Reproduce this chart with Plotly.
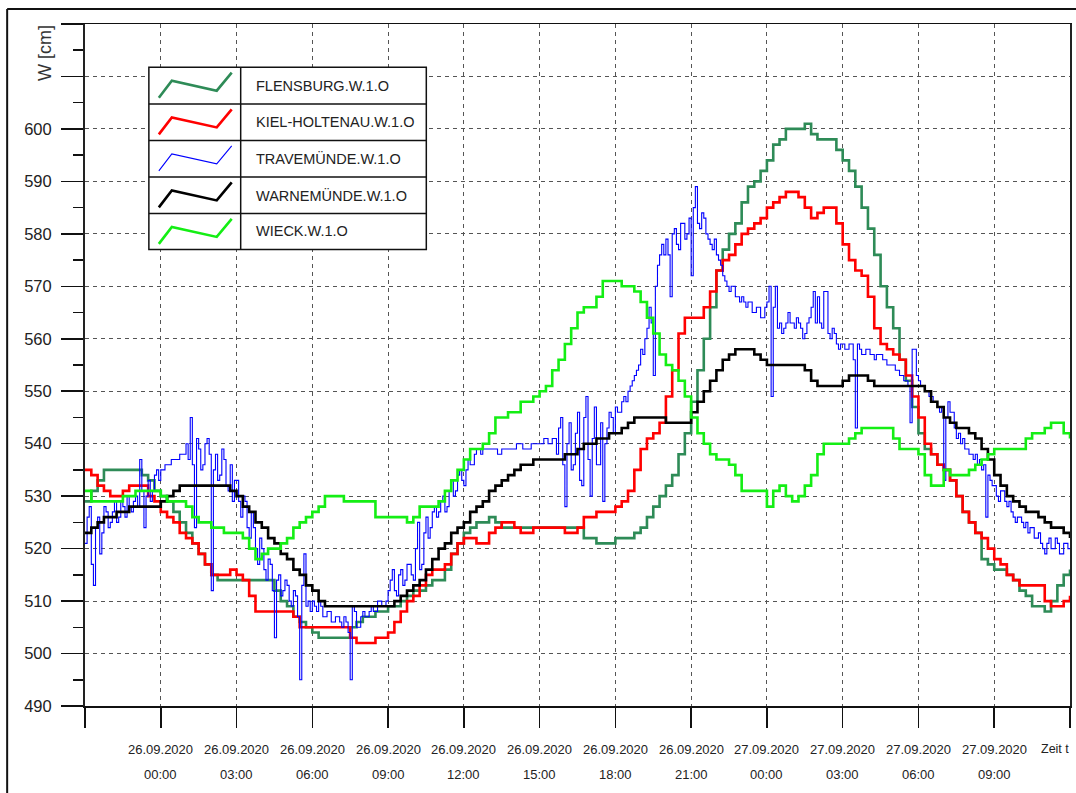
import plotly.graph_objects as go
import pandas as pd

# ---------------- data ----------------
series_names = ["FLENSBURG.W.1.O", "KIEL-HOLTENAU.W.1.O", "TRAVEMÜNDE.W.1.O",
                "WARNEMÜNDE.W.1.O", "WIECK.W.1.O"]
series_colors = ["#2E8B57", "#FF0000", "#0000FF", "#000000", "#14EE14"]
series_widths = [2.6, 2.6, 1.1, 2.6, 2.6]

# 15-minute values from 25.09.2020 21:00 to 27.09.2020 12:00
flensburg = [
    529, 531, 533, 535,  535, 535, 535, 535,  535, 534, 533, 531,  530, 529, 527, 525,
    523, 521, 519, 517,  515, 514, 514, 514,  514, 514, 514, 514,  514, 514, 512, 510,
    509, 507, 506, 505,  504, 503, 503, 503,  503, 503, 505, 506,  507, 507, 508, 508,
    509, 509, 510, 511,  512, 512, 513, 514,  514, 516, 519, 521,  523, 524, 525, 525,
    526, 525, 524, 524,  524, 524, 524, 524,  524, 524, 524, 524,  524, 524, 524, 522,
    522, 521, 521, 521,  522, 522, 522, 523,  524, 526, 528, 530,  532, 534, 538, 542,
    548, 554, 560, 566,  573, 577, 580, 582,  586, 589, 590, 592,  594, 597, 598, 600,
    600, 600, 601, 599,  598, 598, 598, 596,  594, 592, 589, 585,  581, 576, 570, 566,
    562, 556, 552, 547,  542, 539, 538, 536,  535, 533, 530, 527,  525, 523, 518, 517,
    516, 516, 515, 514,  512, 511, 509, 509,  508, 510, 513, 515,  516]

kiel = [
    535, 534, 532, 531,  530, 530, 531, 532,  532, 532, 530, 529,  527, 526, 525, 523,
    522, 521, 519, 517,  515, 515, 515, 516,  515, 514, 511, 508,  508, 508, 508, 508,
    508, 507, 505, 505,  505, 505, 505, 505,  505, 505, 503, 502,  502, 502, 503, 503,
    504, 506, 508, 510,  511, 513, 515, 516,  516, 517, 519, 521,  522, 522, 521, 521,
    523, 524, 525, 525,  524, 523, 523, 524,  524, 524, 524, 524,  523, 523, 524, 526,
    526, 527, 527, 527,  528, 529, 531, 535,  539, 541, 542, 544,  549, 554, 561, 564,
    564, 564, 566, 569,  573, 575, 576, 578,  580, 581, 582, 583,  585, 586, 587, 588,
    588, 587, 585, 583,  584, 585, 585, 582,  578, 575, 573, 572,  568, 562, 559, 558,
    557, 556, 553, 549,  545, 540, 538, 536,  535, 533, 530, 527,  525, 523, 522, 520,
    518, 517, 515, 514,  513, 513, 513, 513,  510, 509, 509, 510,  511]

warnemuende = [
    523, 524, 525, 526,  526, 527, 527, 528,  528, 528, 528, 528,  529, 530, 531, 532,
    532, 532, 532, 532,  532, 532, 532, 531,  530, 528, 527, 525,  524, 522, 521, 519,
    518, 516, 515, 513,  512, 510, 509, 509,  509, 509, 509, 509,  509, 509, 509, 509,
    509, 510, 511, 512,  513, 514, 516, 518,  520, 521, 523, 524,  525, 527, 528, 529,
    531, 532, 533, 534,  535, 536, 536, 537,  537, 537, 537, 537,  538, 538, 539, 540,
    540, 541, 541, 542,  542, 543, 544, 545,  545, 545, 545, 545,  544, 544, 544, 544,
    546, 548, 550, 552,  554, 556, 557, 558,  558, 558, 557, 556,  555, 555, 555, 555,
    555, 555, 554, 552,  551, 551, 551, 551,  552, 553, 553, 553,  552, 551, 551, 551,
    551, 551, 551, 551,  551, 550, 548, 547,  545, 544, 543, 543,  542, 541, 539, 537,
    534, 532, 530, 529,  528, 527, 527, 526,  525, 524, 524, 523,  522]

wieck = [
    531, 529, 529, 529,  529, 529, 530, 530,  531, 531, 531, 531,  530, 529, 529, 529,
    528, 526, 525, 525,  524, 524, 523, 523,  523, 522, 520, 518,  519, 520, 520, 521,
    522, 524, 525, 526,  527, 528, 530, 530,  530, 529, 529, 529,  529, 529, 526, 526,
    526, 526, 526, 525,  526, 528, 528, 528,  529, 531, 533, 535,  537, 539, 539, 540,
    542, 545, 545, 546,  546, 548, 548, 549,  550, 551, 554, 556,  559, 562, 565, 566,
    566, 568, 571, 571,  571, 570, 570, 569,  567, 564, 561, 557,  555, 554, 552, 549,
    545, 542, 540, 538,  537, 537, 536, 534,  531, 531, 531, 531,  528, 531, 532, 530,
    529, 530, 532, 534,  538, 540, 540, 540,  540, 541, 542, 543,  543, 543, 543, 543,
    541, 539, 539, 539,  538, 534, 532, 532,  535, 534, 534, 534,  535, 536, 537, 538,
    539, 539, 539, 539,  539, 541, 542, 542,  543, 544, 544, 542,  541]

# 5-minute values (noisy gauge), one row per hour
travemuende = [
    521, 526, 528, 517, 513, 524, 526, 519, 523, 528, 527, 524,
    525, 527, 529, 525, 526, 529, 528, 526, 530, 528, 527, 529,
    530, 528, 537, 531, 524, 530, 533, 529, 531, 534, 535, 533,
    535, 535, 536, 536, 536, 537, 537, 537, 537, 538, 538, 538,
    540, 537, 545, 536, 524, 541, 539, 535, 536, 540, 541, 538,
    512, 535, 538, 533, 534, 539, 537, 532, 531, 536, 529, 533,
    533, 529, 526, 530, 529, 524, 522, 527, 524, 520, 517, 522,
    520, 516, 514, 518, 517, 512, 503, 514, 515, 511, 512, 514,
    513, 510, 509, 512, 511, 507, 495, 513, 519, 509, 510, 508,
    510, 509, 508, 510, 509, 507, 507, 508, 508, 506, 506, 507,
    507, 506, 505, 507, 506, 504, 495, 509, 508, 505, 505, 507,
    508, 507, 507, 508, 509, 508, 508, 510, 510, 509, 509, 510,
    512, 514, 516, 512, 511, 515, 516, 513, 514, 517, 517, 515,
    514, 520, 525, 516, 517, 523, 526, 522, 524, 527, 528, 526,
    527, 529, 530, 527, 528, 531, 533, 530, 531, 534, 535, 533,
    532, 535, 537, 536, 536, 538, 539, 539, 538, 539, 539, 539,
    539, 539, 539, 539, 538, 538, 539, 539, 539, 539, 539, 539,
    539, 540, 540, 540, 539, 539, 539, 539, 540, 540, 540, 540,
    540, 540, 541, 541, 540, 540, 541, 541, 538, 543, 545, 536,
    528, 540, 544, 535, 536, 542, 546, 533, 532, 545, 549, 537,
    530, 541, 547, 536, 536, 544, 529, 540, 543, 546, 545, 542,
    547, 546, 546, 548, 549, 548, 550, 551, 552, 553, 554, 555,
    558, 557, 560, 562, 566, 563, 553, 570, 574, 576, 578, 576,
    579, 576, 568, 580, 581, 578, 577, 582, 582, 579, 580, 583,
    572, 585, 589, 582, 581, 584, 583, 580, 579, 578, 577, 579,
    576, 575, 574, 572, 571, 570, 569, 570, 570, 568, 568, 567,
    568, 567, 566, 567, 567, 565, 565, 566, 566, 564, 564, 566,
    567, 570, 549, 566, 570, 562, 563, 561, 562, 563, 565, 563,
    563, 562, 564, 563, 562, 560, 561, 563, 564, 566, 569, 563,
    568, 563, 562, 569, 569, 561, 560, 562, 561, 559, 558, 559,
    559, 558, 558, 559, 559, 556, 543, 559, 558, 557, 557, 558,
    558, 557, 557, 556, 557, 557, 557, 556, 556, 555, 555, 555,
    555, 554, 554, 553, 553, 552, 552, 551, 544, 558, 558, 553,
    552, 551, 551, 550, 550, 549, 549, 548, 548, 547, 546, 547,
    533, 545, 548, 546, 546, 543, 541, 542, 540, 541, 539, 539,
    538, 538, 537, 538, 536, 537, 535, 536, 526, 534, 533, 532,
    532, 530, 529, 531, 531, 529, 528, 529, 527, 526, 525, 526,
    526, 525, 524, 525, 523, 524, 524, 522, 522, 523, 521, 520,
    519, 521, 522, 520, 520, 522, 521, 519, 519, 521, 521, 520,
    520]

tick_dates = ["26.09.2020"] * 8 + ["27.09.2020"] * 4
tick_times = ["00:00", "03:00", "06:00", "09:00", "12:00", "15:00", "18:00", "21:00",
              "00:00", "03:00", "06:00", "09:00"]
y_ticks = list(range(490, 621, 10))
y_labels = [str(v) if v <= 600 else "" for v in y_ticks]

# ---------------- figure ----------------
t15 = pd.date_range("2020-09-25 21:00", periods=len(flensburg), freq="15min")
t5 = pd.date_range("2020-09-25 21:00", periods=len(travemuende), freq="5min")
all_ticks = pd.date_range("2020-09-25 21:00", "2020-09-27 12:00", freq="3h")
label_ticks = all_ticks[1:-1]

data = [(t15, flensburg), (t15, kiel), (t5, travemuende), (t15, warnemuende), (t15, wieck)]

fig = go.Figure()
for (tx, vals), name, col, w in zip(data, series_names, series_colors, series_widths):
    fig.add_trace(go.Scatter(x=tx, y=vals, mode="lines", name=name,
                             line=dict(color=col, width=w, shape="hv"),
                             showlegend=False, hoverinfo="skip"))

FONT = "Liberation Sans, Arial, sans-serif"
L, R, T, B = 85, 1072, 24, 706
W, H = R - L, B - T


def px(x):
    return (x - L) / W


def py(y):
    return (B - y) / H


shapes = []
# outer window frame (left + top)
shapes.append(dict(type="line", xref="paper", yref="paper", x0=px(7), x1=px(7),
                   y0=py(800), y1=py(9), line=dict(color="#111", width=2)))
shapes.append(dict(type="line", xref="paper", yref="paper", x0=px(7), x1=px(1090),
                   y0=py(9), y1=py(9), line=dict(color="#111", width=2)))

# legend box
lx0, lx1, ldiv = 149, 427, 241
rows = [67.3, 104, 140.5, 177, 213.5, 249.5]
shapes.append(dict(type="rect", xref="paper", yref="paper", layer="above",
                   x0=px(lx0), x1=px(lx1), y0=py(rows[-1]), y1=py(rows[0]),
                   fillcolor="white", line=dict(color="#111", width=1.5)))
shapes.append(dict(type="line", xref="paper", yref="paper", layer="above",
                   x0=px(ldiv), x1=px(ldiv), y0=py(rows[-1]), y1=py(rows[0]),
                   line=dict(color="#111", width=1.5)))
for r in rows[1:-1]:
    shapes.append(dict(type="line", xref="paper", yref="paper", layer="above",
                       x0=px(lx0), x1=px(lx1), y0=py(r), y1=py(r),
                       line=dict(color="#111", width=1.5)))

annotations = []
icon = [(159, 30.4), (172, 13.4), (217, 23.4), (232, 5.4)]
for i, (name, col, w) in enumerate(zip(series_names, series_colors, series_widths)):
    top = rows[i]
    path = "M " + " L ".join(f"{px(x):.5f},{py(top + dy):.5f}" for x, dy in icon)
    shapes.append(dict(type="path", xref="paper", yref="paper", layer="above",
                       path=path, line=dict(color=col, width=w)))
    annotations.append(dict(xref="paper", yref="paper", x=px(254),
                            y=py((rows[i] + rows[i + 1]) / 2), text=name,
                            showarrow=False, xanchor="left", yanchor="middle",
                            font=dict(family=FONT, size=14.5, color="#222")))

# x tick labels (two rows)
for t, d, tm in zip(label_ticks, tick_dates, tick_times):
    annotations.append(dict(x=t, xref="x", y=0, yref="paper", yshift=-43, text=d,
                            showarrow=False, xanchor="center", yanchor="middle",
                            font=dict(family=FONT, size=13, color="#222")))
    annotations.append(dict(x=t, xref="x", y=0, yref="paper", yshift=-68, text=tm,
                            showarrow=False, xanchor="center", yanchor="middle",
                            font=dict(family=FONT, size=13, color="#222")))
annotations.append(dict(x=px(1041), xref="paper", y=0, yref="paper", yshift=-43,
                        text="Zeit t", showarrow=False, xanchor="left", yanchor="middle",
                        font=dict(family=FONT, size=12.5, color="#222")))
# y axis title
annotations.append(dict(x=px(45), xref="paper", y=py(53), yref="paper", text="W [cm]",
                        textangle=-90, showarrow=False, xanchor="center", yanchor="middle",
                        font=dict(family=FONT, size=18, color="#333")))

fig.update_layout(
    width=1076, height=793, autosize=False,
    margin=dict(l=L, r=1076 - R, t=T, b=793 - B),
    paper_bgcolor="white", plot_bgcolor="white",
    showlegend=False, hovermode=False,
    shapes=shapes, annotations=annotations,
    xaxis=dict(type="date", range=[all_ticks[0], all_ticks[-1]],
               tickvals=list(all_ticks), ticktext=[""] * len(all_ticks),
               ticks="outside", ticklen=20, tickwidth=1.5, tickcolor="#111",
               showgrid=True, gridcolor="#555", gridwidth=1, griddash="4px,4px",
               showline=True, linecolor="#111", linewidth=1.5, mirror=True,
               zeroline=False),
    yaxis=dict(range=[490, 620], tickvals=y_ticks, ticktext=y_labels,
               ticks="outside", ticklen=22, tickwidth=1.5, tickcolor="#111",
               minor=dict(dtick=5, tick0=490, ticks="outside", ticklen=10,
                          tickwidth=1.5, tickcolor="#111", showgrid=False),
               ticklabelstandoff=6,
               tickfont=dict(family=FONT, size=16.5, color="#222"),
               showgrid=True, gridcolor="#555", gridwidth=1, griddash="4px,4px",
               showline=True, linecolor="#222", linewidth=2, mirror=True,
               zeroline=False),
)

fig.write_html("out.html",
               config={"displayModeBar": False, "staticPlot": True},
               post_script="document.body.style.margin='0px';"
                           "document.body.style.padding='0px';"
                           "document.body.style.overflow='hidden';")
